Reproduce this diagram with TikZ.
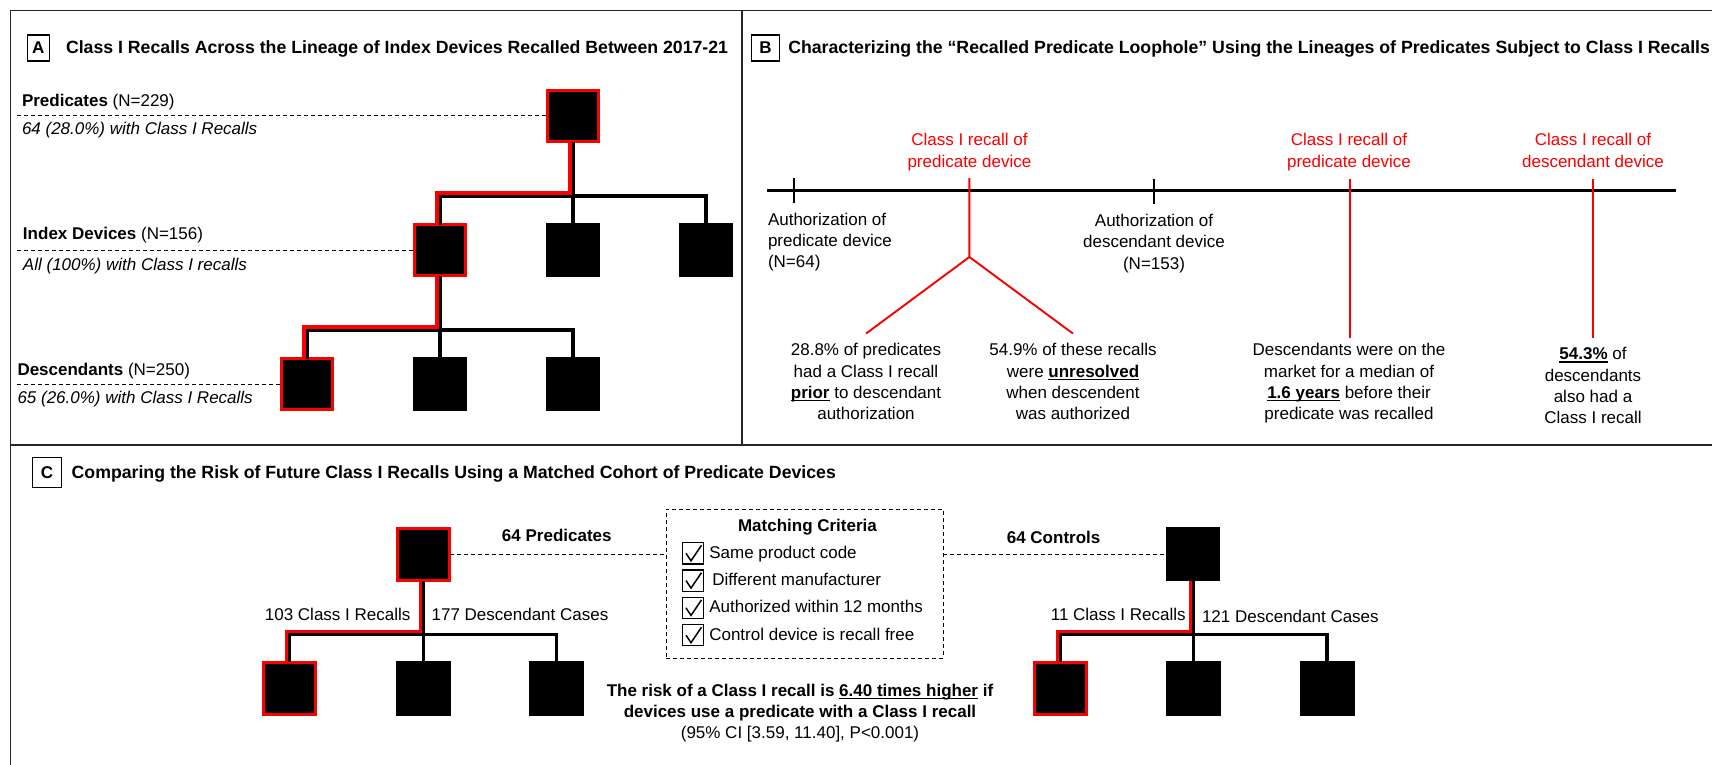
\documentclass[tikz,border=0pt]{standalone}
\usepackage{fontspec}
\setmainfont{Liberation Sans}
\definecolor{rd}{RGB}{250,0,0}
\newcommand{\fsz}{\fontsize{17}{21.2}\selectfont}
\newcommand{\myul}[1]{\setbox0\hbox{#1}\rlap{\rule[-2.6pt]{\wd0}{1.1pt}}\box0\relax}
\begin{document}
\begin{tikzpicture}[x=1pt,y=-1pt,
  every node/.style={inner sep=0pt, outer sep=0pt, font=\fsz},
  frameline/.style={line width=1.6pt, black!85},
  lbox/.style={draw, line width=1.3pt, font=\fontsize{17}{20}\selectfont\bfseries},
  ttl/.style={anchor=base west, font=\fontsize{17.7}{21}\selectfont\bfseries},
  blk/.style={fill=black, minimum size=#1},
  rblk/.style={fill=black, draw=rd, line width=3pt, minimum size=#1},
  tree/.style={line width=3.1pt, black},
  rtree/.style={line width=3.1pt, rd},
  dashln/.style={line width=1pt, dash pattern=on 4pt off 3pt},
  redtxt/.style={text=rd, align=center, anchor=north},
  ctr/.style={align=center, anchor=north},
  redln/.style={line width=1.9pt, rd},
  cbox/.style={draw, line width=1.2pt, minimum width=20.6pt, minimum height=21.3pt},
]
\useasboundingbox (0,0) rectangle (1712,765);
\fill[white] (0,0) rectangle (1712,765);

% frame
\coordinate (fTL) at (10.5,10.5);
\coordinate (fTR) at (1720,10.5);
\coordinate (fBL) at (10.5,775);
\coordinate (mL) at (10.5,445);
\coordinate (mR) at (1720,445);
\coordinate (vT) at (742,10.5);
\coordinate (vB) at (742,445);
\draw[frameline] (fBL) -- (fTL) -- (fTR);
\draw[frameline] (mL) -- (mR);
\draw[frameline] (vT) -- (vB);

% ---------------- Panel A
\node[lbox, minimum width=22pt, minimum height=26pt] (bA) at (38.3,48) {A};
\node[ttl] (tA) at (66,54) {Class I Recalls Across the Lineage of Index Devices Recalled Between 2017-21};

\node[rblk=51pt] (pa) at (573,116) {};
\node[rblk=51pt] (ia1) at (440,250) {};
\node[blk=54pt] (ia2) at (573,250) {};
\node[blk=54pt] (ia3) at (706,250) {};
\node[rblk=51pt] (d1) at (307,384) {};
\node[blk=54pt] (d2) at (440,384) {};
\node[blk=54pt] (d3) at (573,384) {};

\coordinate (busA1) at (573,196);
\coordinate (busA2) at (440,330);
\draw[tree] (pa.south) -- (ia2.north);
\draw[tree] (ia1.north) |- (busA1);
\draw[tree] (ia3.north) |- (busA1);
\draw[tree] (ia1.south) -- (d2.north);
\draw[tree] (d1.north) |- (busA2);
\draw[tree] (d3.north) |- (busA2);
\coordinate (rA1) at (570,193);
\coordinate (rA2) at (437,327);
\draw[rtree] ([xshift=-3pt]pa.south) -- (rA1) -| ([xshift=-3pt]ia1.north);
\draw[rtree] ([xshift=-3pt]ia1.south) -- (rA2) -| ([xshift=-3pt]d1.north);

\node[anchor=base west] (lp) at (22,106.7) {\textbf{Predicates} (N=229)};
\coordinate (dp) at (17,116);
\draw[dashln] (dp) -- (pa.west);
\node[anchor=base west] (lp2) at (22,135) {\itshape 64 (28.0\%) with Class I Recalls};
\node[anchor=base west] (li) at (23,239.3) {\textbf{Index Devices} (N=156)};
\coordinate (di) at (17,250);
\draw[dashln] (di) -- (ia1.west);
\node[anchor=base west] (li2) at (23,270) {\itshape All (100\%) with Class I recalls};
\node[anchor=base west] (ld) at (17.5,375) {\textbf{Descendants} (N=250)};
\coordinate (dd) at (17,384);
\draw[dashln] (dd) -- (d1.west);
\node[anchor=base west] (ld2) at (17.5,403.3) {\itshape 65 (26.0\%) with Class I Recalls};

% ---------------- Panel B
\node[lbox, minimum width=27.6pt, minimum height=26pt] (bB) at (765.5,48) {B};
\node[ttl] (tB) at (788.3,54) {Characterizing the “Recalled Predicate Loophole” Using the Lineages of Predicates Subject to Class I Recalls};

\coordinate (tl0) at (767,190);
\coordinate (tl1) at (1676,190);
\draw[line width=3pt] (tl0) -- (tl1);
\coordinate (k1a) at (794,178);
\coordinate (k1b) at (794,203);
\draw[line width=1.6pt] (k1a) -- (k1b);
\coordinate (k2a) at (1154,179);
\coordinate (k2b) at (1154,204);
\draw[line width=1.6pt] (k2a) -- (k2b);

\node[redtxt] (rl1) at (969.4,133.6) {Class I recall of\\predicate device};
\node[redtxt] (rl2) at (1349,133.6) {Class I recall of\\predicate device};
\node[redtxt] (rl3) at (1593,133.6) {Class I recall of\\descendant device};

\node[anchor=north west, align=left] (au1) at (768,212.9) {Authorization of\\predicate device\\(N=64)};
\node[ctr] (au2) at (1154,214.3) {Authorization of\\descendant device\\(N=153)};

\node[ctr] (t1) at (866,343.6) {28.8\% of predicates\\had a Class I recall\\\myul{\textbf{prior}} to descendant\\authorization};
\node[ctr] (t2) at (1073,343.6) {54.9\% of these recalls\\were \myul{\textbf{unresolved}}\\when descendent\\was authorized};
\node[ctr] (t3) at (1349,343.6) {Descendants were on the\\market for a median of\\\myul{\textbf{1.6 years}} before their\\predicate was recalled};
\node[ctr] (t4) at (1593,347.6) {\myul{\textbf{54.3\%}} of\\descendants\\also had a\\Class I recall};

\coordinate (s1) at (969.4,178);
\coordinate (s1m) at (969.4,257);
\draw[redln] (s1) -- (s1m) -- ([yshift=10pt]t1.north);
\draw[redln] (s1m) -- ([yshift=10pt]t2.north);
\coordinate (s2) at (1350,179);
\draw[redln] (s2) -- ([xshift=1pt,yshift=6pt]t3.north);
\coordinate (s3) at (1593,179);
\draw[redln] (s3) -- ([yshift=10pt]t4.north);

% ---------------- Panel C
\node[lbox, minimum width=29.4pt, minimum height=30pt] (bC) at (47,472.5) {C};
\node[ttl] (tC) at (71.7,478.3) {Comparing the Risk of Future Class I Recalls Using a Matched Cohort of Predicate Devices};

\node[rblk=52pt] (pc) at (423.5,554.5) {};
\node[rblk=52pt] (c1) at (289.6,688) {};
\node[blk=55pt] (c2) at (423.5,688) {};
\node[blk=55pt] (c3) at (556.5,688) {};
\coordinate (busC1) at (423.5,634.5);
\draw[tree] (pc.south) -- (c2.north);
\draw[tree] (c1.north) |- (busC1);
\draw[tree] (c3.north) |- (busC1);
\coordinate (rC1) at (420.5,631.5);
\draw[rtree] ([xshift=-3pt]pc.south) -- (rC1) -| ([xshift=-3pt]c1.north);

\node[anchor=base] (l64p) at (556.8,541.7) {\textbf{64 Predicates}};
\node[anchor=base east] (l103) at (410.4,620) {103 Class I Recalls};
\node[anchor=base west] (l177) at (431.6,620) {177 Descendant Cases};

\node[draw, dashln, minimum width=277pt, minimum height=149pt] (mb) at (804.5,583.5) {};
\draw[dashln] (pc.east) -- (pc.east -| mb.west);
\node[anchor=base] (mct) at (807.5,531.7) {\textbf{Matching Criteria}};
\foreach \i/\yy/\txt/\dx in {1/553.3/Same product code/0, 2/580.6/Different manufacturer/3, 3/607.9/Authorized within 12 months/0, 4/635.2/Control device is recall free/0}{
  \node[cbox] (cb\i) at (693,\yy) {};
  \draw[line width=1.5pt] ([shift={(-7,0)}]cb\i.center) -- ([shift={(-2,7.5)}]cb\i.center) -- ([shift={(8.5,-8)}]cb\i.center);
  \node[anchor=base west] (ct\i) at ({709.3+\dx},{\yy+5}) {\txt};
}

\node[blk=54pt] (pk) at (1193.3,554) {};
\draw[dashln] (mb.east |- pk.west) -- (pk.west);
\node[anchor=base] (l64c) at (1053.6,543) {\textbf{64 Controls}};
\node[rblk=52pt] (k1) at (1060.8,688) {};
\node[blk=55pt] (k2) at (1193.3,688) {};
\node[blk=55pt] (k3) at (1327,688) {};
\coordinate (busC2) at (1193.3,634.3);
\draw[tree] (pk.south) -- (k2.north);
\draw[tree] (k1.north) |- (busC2);
\draw[tree] (k3.north) |- (busC2);
\coordinate (rC2) at (1190.3,631.3);
\draw[rtree] ([xshift=-3pt]pk.south) -- (rC2) -| ([xshift=-3pt]k1.north);
\node[anchor=base east] (l11) at (1185.6,620.7) {11 Class I Recalls};
\node[anchor=base west] (l121) at (1202,622.7) {121 Descendant Cases};

\node[ctr, font=\fontsize{17}{20.7}\selectfont] (risk) at (800,684.3) {\textbf{The risk of a Class I recall is \myul{6.40 times higher} if}\\\textbf{devices use a predicate with a Class I recall}\\(95\% CI [3.59, 11.40], P<0.001)};

\end{tikzpicture}
\end{document}
